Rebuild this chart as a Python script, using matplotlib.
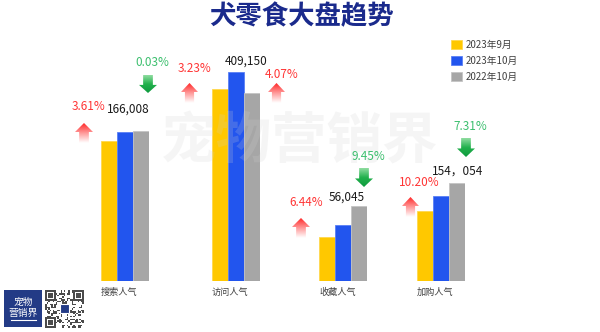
import numpy as np
import matplotlib
matplotlib.use("Agg")
import matplotlib.pyplot as plt
import matplotlib.transforms as mtransforms
from matplotlib.patches import Polygon, Rectangle

plt.rcParams['font.family'] = ['Noto Sans CJK SC', 'DejaVu Sans']

# data
categories = ["搜索人气", "访问人气", "收藏人气", "加购人气"]
series_names = ["2023年9月", "2023年10月", "2022年10月"]
sep_2023 = [160224, 396348, 52654, 139795]
oct_2023 = [166008, 409150, 56045, 154054]
oct_2022 = [166058, 393149, 61894, 166203]
value_labels = ["166,008", "409,150", "56,045", "154，054"]
mom_labels = ["3.61%", "3.23%", "6.44%", "10.20%"]   # month on month, all up
yoy_labels = ["0.03%", "4.07%", "9.45%", "7.31%"]    # year on year
yoy_up = [False, True, False, False]

colors = ["#FFC800", "#2255EE", "#A6A6A6"]
edges = ["#FFD84D", "#5A80F5", "#C4C4C4"]

W, H = 600, 332
fig = plt.figure(figsize=(6, 3.32), dpi=100)

def fx(px):
    return px / W

def fy(py):
    return 1 - py / H

# each group sits in its own small panel with its own scale
group_left = [101, 212, 319, 417]
group_w = 48
base_y = 281
panel_h = 230
y_lo = [74673, 250194, 39118, 74249]
y_hi = [215226, 424860, 109091, 289989]

bar_handles = None
for i, cat in enumerate(categories):
    ax = fig.add_axes([fx(group_left[i]), fy(base_y), group_w / W, panel_h / H])
    vals = [sep_2023[i], oct_2023[i], oct_2022[i]]
    bars = ax.bar([0, 1, 2], vals, width=1.0, color=colors, edgecolor=edges, linewidth=0.6)
    bar_handles = bars
    ax.set_xlim(-0.5, 2.5)
    ax.set_ylim(y_lo[i], y_hi[i])
    ax.axis('off')
    trans = mtransforms.blended_transform_factory(ax.transData, ax.transAxes)
    ax.text(-0.5, -11 / panel_h, cat, transform=trans, ha='left', va='center',
            fontsize=6.6, color='#404040', clip_on=False)

# legend
fig.legend(bar_handles, series_names, loc='upper left', bbox_to_anchor=(fx(451), fy(40)),
           frameon=False, fontsize=7, handlelength=1.15, handleheight=1.0,
           handletextpad=0.35, labelspacing=0.62, borderpad=0, borderaxespad=0,
           labelcolor='#404040')

# overlay in pixel coordinates for title, notes, arrows, logo
ov = fig.add_axes([0, 0, 1, 1], zorder=5)
ov.set_xlim(0, W)
ov.set_ylim(H, 0)
ov.axis('off')
ov.patch.set_alpha(0)

ov.text(301, 17, "犬零食大盘趋势", ha='center', va='center', fontsize=19,
        fontweight='bold', color='#1a2a8c')

# watermark
ov.text(300, 142, "宠物营销界", ha='center', va='center', fontsize=40,
        fontweight='bold', color='#d0d0d0', alpha=0.2)

RED = '#ff3535'
GREEN = '#3cbf6e'

def block_arrow(x0, x1, y0, y1, up):
    w = x1 - x0
    cx = (x0 + x1) / 2
    sw = w * 0.27
    head = (y1 - y0) * 0.45
    if up:
        pts = [(cx, y0), (x1, y0 + head), (cx + sw, y0 + head), (cx + sw, y1),
               (cx - sw, y1), (cx - sw, y0 + head), (x0, y0 + head)]
        grad = np.linspace(0, 1, 50)[:, None]
        cmap = matplotlib.colors.LinearSegmentedColormap.from_list('r', ['#ff2a2a', '#ff9a9a', '#ffffff'])
    else:
        pts = [(cx, y1), (x1, y1 - head), (cx + sw, y1 - head), (cx + sw, y0),
               (cx - sw, y0), (cx - sw, y1 - head), (x0, y1 - head)]
        grad = np.linspace(0, 1, 50)[:, None]
        cmap = matplotlib.colors.LinearSegmentedColormap.from_list('g', ['#8fdca0', '#22b14c', '#0e9a3e'])
    poly = Polygon(pts, closed=True, facecolor='none', edgecolor='none')
    ov.add_patch(poly)
    im = ov.imshow(grad, extent=(x0, x1, y1, y0), cmap=cmap, aspect='auto',
                   interpolation='bilinear', zorder=6)
    im.set_clip_path(poly)

# annotation positions (pixels)
val_pos = [(128, 109), (246, 61), (347, 197), (458, 171)]
mom_pos = [(89, 107), (195, 69), (306, 203), (419, 182)]
mom_arrow = [(75, 93, 123, 143), (181, 198, 83, 103), (292, 310, 218, 238), (402, 419, 197, 217)]
yoy_pos = [(152, 63), (282, 74), (368, 156), (470, 126)]
yoy_arrow = [(139, 157, 75, 93), (268, 285, 83, 103), (355, 373, 168, 187), (457, 475, 138, 157)]

for i in range(len(categories)):
    ov.text(*val_pos[i], value_labels[i], ha='center', va='center', fontsize=8.5, color='#1a1a1a')
    ov.text(*mom_pos[i], mom_labels[i], ha='center', va='center', fontsize=8.5, color=RED)
    block_arrow(*mom_arrow[i], up=True)
    ov.text(*yoy_pos[i], yoy_labels[i], ha='center', va='center', fontsize=8.5,
            color=RED if yoy_up[i] else GREEN)
    block_arrow(*yoy_arrow[i], up=yoy_up[i])

# logo box
ov.add_patch(Rectangle((4, 290), 38, 37, facecolor='#233b86', edgecolor='none', zorder=6))
ov.text(23, 302, "宠物", ha='center', va='center', fontsize=7, color='white', zorder=7)
ov.text(23, 313, "营销界", ha='center', va='center', fontsize=7, color='white', zorder=7)
ov.plot([11, 36], [319.5, 319.5], color='white', linewidth=0.8, zorder=7)

# qr-like mark
n = 25
ii, jj = np.meshgrid(np.arange(n), np.arange(n), indexing='ij')
qr = (((ii * 7 + jj * 13) ^ (ii * jj + 3)) % 3 == 0).astype(float)
for (r, c) in [(0, 0), (0, n - 7), (n - 7, 0)]:
    qr[r:r + 7, c:c + 7] = 1
    qr[r + 1:r + 6, c + 1:c + 6] = 0
    qr[r + 2:r + 5, c + 2:c + 5] = 1
ov.imshow(qr, extent=(45, 84, 328, 290), cmap='Greys', vmin=0, vmax=1.3,
          interpolation='nearest', aspect='auto', zorder=6)
ov.add_patch(Rectangle((60, 304), 9, 9, facecolor='#233b86', edgecolor='white', linewidth=0.8, zorder=7))

fig.savefig("out.png", dpi=100)
